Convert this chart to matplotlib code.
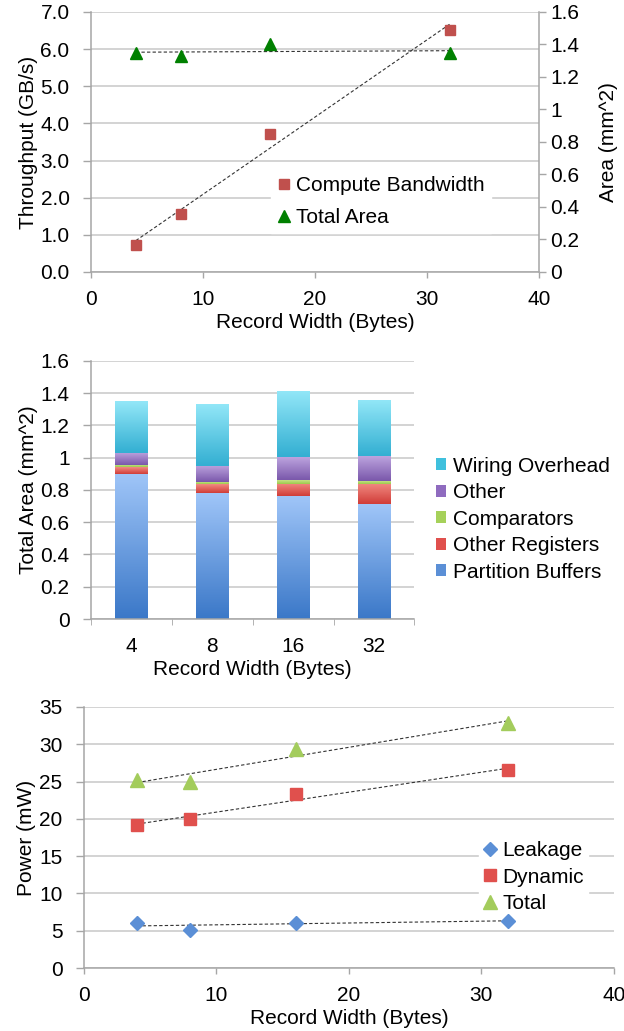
import numpy as np
import matplotlib
matplotlib.use("Agg")
from matplotlib import pyplot as plt
from matplotlib.colors import LinearSegmentedColormap
from matplotlib.ticker import FuncFormatter

plt.rcParams['font.family'] = ['Liberation Sans', 'DejaVu Sans']
plt.rcParams['font.size'] = 15

# record widths (bytes)
widths = [4, 8, 16, 32]

# throughput vs. area
compute_bw = [0.72, 1.57, 3.72, 6.52]
total_area = [1.346, 1.332, 1.40, 1.346]

# area breakdown (mm^2), bottom to top
area_labels = ['Partition Buffers', 'Other Registers', 'Comparators', 'Other', 'Wiring Overhead']
partition_buffers = [0.90, 0.78, 0.76, 0.71]
other_registers = [0.04, 0.055, 0.075, 0.125]
comparators = [0.015, 0.015, 0.028, 0.02]
other = [0.075, 0.10, 0.14, 0.155]
wiring_overhead = [0.32, 0.385, 0.41, 0.35]

# power (mW)
leakage = [6.1, 5.1, 6.1, 6.35]
dynamic = [19.2, 19.95, 23.3, 26.5]
total_power = [25.25, 25.0, 29.3, 32.9]

FS = 15
GRID = '#c8c8c8'
SPINE = '#a6a6a6'


def style_axes(ax):
    ax.set_axisbelow(True)
    ax.yaxis.grid(True, color=GRID, linewidth=1.1)
    for side in ['top', 'right']:
        ax.spines[side].set_visible(False)
    for side in ['left', 'bottom']:
        ax.spines[side].set_color(SPINE)
        ax.spines[side].set_linewidth(1.1)
    ax.tick_params(axis='y', direction='out', length=5.5, width=1, color=SPINE, labelsize=FS, pad=10)
    ax.tick_params(axis='x', direction='out', length=4, width=1, color=SPINE, labelsize=FS, pad=9)


def trend(ax, x, y):
    k, b = np.polyfit(x, y, 1)
    xs = np.array([x[0], x[-1]])
    ax.plot(xs, k * xs + b, color='#333333', linestyle=(0, (3, 2)), linewidth=0.8, zorder=2)


def gradient_fill(ax, patch, c_top, c_bottom):
    x0, y0 = patch.get_x(), patch.get_y()
    w, h = patch.get_width(), patch.get_height()
    cmap = LinearSegmentedColormap.from_list('g', [c_bottom, c_top])
    grad = np.linspace(0, 1, 64).reshape(-1, 1)
    im = ax.imshow(grad, cmap=cmap, origin='lower', aspect='auto',
                   extent=[x0, x0 + w, y0, y0 + h], zorder=patch.get_zorder() + 0.1)
    im.set_clip_path(patch)


gfmt = FuncFormatter(lambda v, p: f"{v:g}")

fig = plt.figure(figsize=(6.24, 10.31), dpi=100)

# --- throughput & total area ---
ax1 = fig.add_axes([0.146, 0.7362, 0.718, 0.2522])
style_axes(ax1)
ax1.set_xlim(0, 40)
ax1.set_ylim(0, 7)
ax1.set_xticks([0, 10, 20, 30, 40])
ax1.set_yticks(np.arange(0, 7.01, 1))
ax1.yaxis.set_major_formatter(FuncFormatter(lambda v, p: f"{v:.1f}"))
ax1.set_xlabel('Record Width (Bytes)', fontsize=FS, labelpad=3)
ax1.set_ylabel('Throughput (GB/s)', fontsize=FS, labelpad=2)
sq, = ax1.plot(widths, compute_bw, 's', color='#c0504d', markersize=7.5, zorder=3,
               label='Compute Bandwidth')
trend(ax1, widths, compute_bw)

ax1b = ax1.twinx()
ax1b.set_ylim(0, 1.6)
ax1b.set_yticks(np.arange(0, 1.61, 0.2))
ax1b.yaxis.set_major_formatter(gfmt)
for side in ['top', 'left', 'bottom']:
    ax1b.spines[side].set_visible(False)
ax1b.spines['right'].set_color(SPINE)
ax1b.spines['right'].set_linewidth(1.1)
ax1b.tick_params(direction='out', length=5, width=1, color=SPINE, labelsize=FS, pad=3)
ax1b.set_ylabel('Area (mm^2)', fontsize=FS, labelpad=14)
tri, = ax1b.plot(widths, total_area, '^', color='#008000', markersize=9, zorder=3,
                 label='Total Area')
trend(ax1b, widths, total_area)

leg1 = ax1b.legend(handles=[sq, tri], loc='upper left', bbox_to_anchor=(0.435, 0.835),
                   bbox_transform=fig.transFigure, frameon=True, fancybox=False,
                   edgecolor='white', framealpha=1, fontsize=FS, handlelength=0.6,
                   handletextpad=0.3, labelspacing=0.6, borderpad=0.3, borderaxespad=0)
leg1.set_zorder(2.5)

# --- area breakdown ---
ax2 = fig.add_axes([0.146, 0.3996, 0.518, 0.2503])
style_axes(ax2)
ax2.set_xlim(-0.5, 3.5)
ax2.set_ylim(0, 1.6)
ax2.set_yticks(np.arange(0, 1.61, 0.2))
ax2.yaxis.set_major_formatter(gfmt)
ax2.set_xticks(range(len(widths)))
ax2.set_xticklabels([str(w) for w in widths])
ax2.set_xticks(np.arange(-0.5, 3.6, 1), minor=True)
ax2.tick_params(axis='x', which='major', length=0, pad=13)
ax2.tick_params(axis='x', which='minor', direction='out', length=4, color=SPINE)
ax2.set_xlabel('Record Width (Bytes)', fontsize=FS, labelpad=3)
ax2.set_ylabel('Total Area (mm^2)', fontsize=FS, labelpad=2)

segments = [partition_buffers, other_registers, comparators, other, wiring_overhead]
flat = ['#5b8fd6', '#e0504d', '#a6d15a', '#8f6bbf', '#3fc0dd']
shades = [('#9fc5f8', '#3b78c8'), ('#f28a82', '#d03d38'), ('#cfe893', '#9dcb4c'),
          ('#bca3de', '#7a58ab'), ('#93e7f8', '#33afd2')]
bottom = np.zeros(len(widths))
xpos = np.arange(len(widths))
for vals, lab, fc, (ct, cb) in zip(segments, area_labels, flat, shades):
    bars = ax2.bar(xpos, vals, 0.40, bottom=bottom, color=fc, label=lab, zorder=2)
    for p in bars:
        gradient_fill(ax2, p, ct, cb)
    bottom += np.array(vals)
ax2.set_xlim(-0.5, 3.5)
ax2.set_ylim(0, 1.6)

h, l = ax2.get_legend_handles_labels()
ax2.legend(h[::-1], l[::-1], loc='upper left', bbox_to_anchor=(0.698, 0.557),
           bbox_transform=fig.transFigure, frameon=False, fontsize=FS,
           handlelength=0.5, handleheight=0.5, handletextpad=0.35,
           labelspacing=0.36, borderaxespad=0, borderpad=0)

# --- power ---
ax3 = fig.add_axes([0.1346, 0.0611, 0.849, 0.2532])
style_axes(ax3)
ax3.set_xlim(0, 40)
ax3.set_ylim(0, 35)
ax3.set_xticks([0, 10, 20, 30, 40])
ax3.set_yticks(np.arange(0, 36, 5))
ax3.set_xlabel('Record Width (Bytes)', fontsize=FS, labelpad=3)
ax3.set_ylabel('Power (mW)', fontsize=FS, labelpad=2)
ax3.plot(widths, leakage, 'D', color='#5b8fd6', markersize=7, zorder=3, label='Leakage')
ax3.plot(widths, dynamic, 's', color='#e0504d', markersize=8.5, zorder=3, label='Dynamic')
ax3.plot(widths, total_power, '^', color='#a3cc5c', markersize=10, zorder=3, label='Total')
for series in [leakage, dynamic, total_power]:
    trend(ax3, widths, series)
leg3 = ax3.legend(loc='upper left', bbox_to_anchor=(0.768, 0.188), bbox_transform=fig.transFigure,
                  frameon=True, fancybox=False, edgecolor='white', framealpha=1, fontsize=FS,
                  handlelength=0.6, handletextpad=0.3, labelspacing=0.35, borderpad=0.2,
                  borderaxespad=0)
leg3.set_zorder(2.5)

fig.savefig('out.png', dpi=100)
